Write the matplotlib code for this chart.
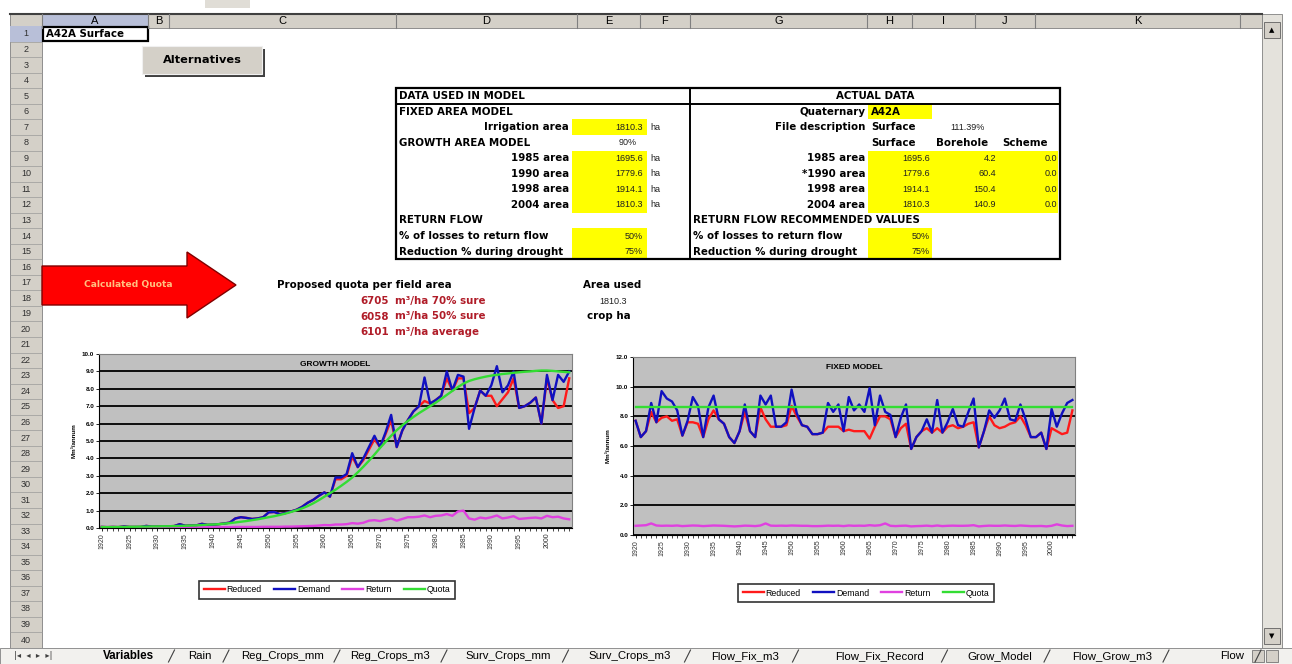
import matplotlib.pyplot as plt
from matplotlib.patches import Rectangle, Polygon

plt.rcParams['font.family'] = ['Liberation Sans', 'DejaVu Sans']

## data
years = list(range(1920, 2005))

grow_reduced = [0.06, 0.05, 0.06, 0.05, 0.09, 0.06, 0.06, 0.06, 0.12, 0.08,
                0.08, 0.09, 0.10, 0.11, 0.22, 0.13, 0.14, 0.15, 0.24, 0.18,
                0.19, 0.22, 0.26, 0.31, 0.55, 0.62, 0.58, 0.52, 0.55, 0.62,
                0.90, 0.92, 0.80, 0.86, 0.95, 1.05, 1.22, 1.45, 1.62, 1.85,
                2.05, 1.80, 2.80, 2.80, 3.00, 4.10, 3.50, 3.90, 4.50, 5.10,
                4.65, 5.40, 6.20, 4.65, 5.60, 6.20, 6.70, 7.00, 7.30, 7.15,
                7.35, 7.60, 8.60, 7.90, 8.60, 8.60, 6.60, 6.90, 7.90, 7.60,
                7.60, 7.00, 7.40, 7.80, 8.60, 6.90, 7.00, 7.20, 7.50, 6.00,
                8.60, 7.35, 6.90, 7.00, 8.60]
grow_demand = [0.06, 0.05, 0.06, 0.05, 0.09, 0.06, 0.06, 0.06, 0.12, 0.08,
               0.08, 0.09, 0.10, 0.11, 0.22, 0.13, 0.14, 0.15, 0.24, 0.18,
               0.19, 0.22, 0.26, 0.31, 0.55, 0.62, 0.58, 0.52, 0.55, 0.62,
               0.90, 0.92, 0.80, 0.86, 0.95, 1.05, 1.22, 1.45, 1.62, 1.85,
               2.05, 1.80, 2.90, 2.90, 3.10, 4.30, 3.50, 4.00, 4.65, 5.30,
               4.65, 5.50, 6.50, 4.65, 5.60, 6.20, 6.70, 7.00, 8.65, 7.15,
               7.35, 7.60, 9.00, 7.90, 8.80, 8.70, 5.70, 6.90, 7.90, 7.60,
               8.20, 9.30, 7.80, 8.20, 9.00, 6.90, 7.00, 7.20, 7.50, 6.00,
               8.80, 7.35, 8.80, 8.40, 9.00]
grow_return = [0.02, 0.02, 0.02, 0.02, 0.03, 0.02, 0.02, 0.02, 0.03, 0.02,
               0.02, 0.02, 0.03, 0.03, 0.04, 0.03, 0.03, 0.03, 0.04, 0.04,
               0.04, 0.04, 0.05, 0.05, 0.06, 0.06, 0.06, 0.06, 0.06, 0.07,
               0.07, 0.07, 0.07, 0.08, 0.08, 0.09, 0.10, 0.11, 0.12, 0.14,
               0.17, 0.16, 0.20, 0.20, 0.22, 0.28, 0.25, 0.30, 0.42, 0.45,
               0.40, 0.48, 0.55, 0.42, 0.52, 0.62, 0.62, 0.65, 0.72, 0.62,
               0.70, 0.72, 0.80, 0.70, 0.95, 1.00, 0.55, 0.48, 0.60, 0.55,
               0.62, 0.72, 0.55, 0.60, 0.68, 0.52, 0.55, 0.58, 0.60, 0.55,
               0.70, 0.62, 0.65, 0.55, 0.50]
grow_quota = [0.05, 0.05, 0.05, 0.06, 0.06, 0.07, 0.07, 0.08, 0.08, 0.09,
              0.09, 0.10, 0.10, 0.11, 0.12, 0.13, 0.14, 0.15, 0.17, 0.19,
              0.20, 0.22, 0.25, 0.28, 0.32, 0.36, 0.40, 0.45, 0.50, 0.56,
              0.62, 0.68, 0.75, 0.83, 0.92, 1.02, 1.13, 1.26, 1.42, 1.60,
              1.80, 2.00, 2.20, 2.42, 2.65, 2.90, 3.20, 3.52, 3.86, 4.22,
              4.60, 4.95, 5.30, 5.62, 5.90, 6.15, 6.38, 6.60, 6.80, 7.00,
              7.20, 7.42, 7.65, 7.88, 8.10, 8.30, 8.45, 8.55, 8.63, 8.70,
              8.76, 8.80, 8.85, 8.88, 8.92, 8.95, 8.98, 9.00, 9.03, 9.05,
              9.05, 9.03, 9.00, 8.97, 8.95]

fix_reduced = [7.7, 6.6, 7.0, 8.3, 7.6, 7.9, 8.0, 7.7, 7.8, 6.7,
               7.6, 7.6, 7.5, 6.6, 7.8, 8.4, 7.8, 7.5, 6.6, 6.2,
               7.0, 8.3, 7.0, 6.6, 8.6, 7.8, 7.3, 7.3, 7.3, 7.4,
               8.7, 8.0, 7.4, 7.3, 6.8, 6.8, 6.9, 7.3, 7.3, 7.3,
               7.0, 7.1, 7.0, 7.0, 7.0, 6.5, 7.3, 8.0, 8.0, 7.8,
               6.6, 7.2, 7.5, 5.8, 6.6, 7.0, 7.2, 6.9, 7.2, 6.9,
               7.3, 7.4, 7.2, 7.3, 7.5, 7.6, 5.9, 7.0, 8.0, 7.4,
               7.2, 7.3, 7.5, 7.6, 8.0, 7.4, 6.6, 6.6, 6.9, 5.8,
               7.2, 7.0, 6.8, 6.9, 8.4]
fix_demand = [7.7, 6.6, 7.0, 8.9, 7.6, 9.7, 9.2, 9.0, 8.4, 6.7,
              7.7, 9.3, 8.7, 6.6, 8.6, 9.4, 7.8, 7.5, 6.6, 6.2,
              7.0, 8.8, 7.0, 6.6, 9.4, 8.8, 9.4, 7.3, 7.3, 7.6,
              9.8, 8.2, 7.4, 7.3, 6.8, 6.8, 6.9, 8.9, 8.3, 8.8,
              7.0, 9.3, 8.4, 8.8, 8.3, 9.9, 7.4, 9.4, 8.3, 8.1,
              6.6, 7.9, 8.8, 5.8, 6.6, 7.0, 7.8, 6.9, 9.1, 6.9,
              7.6, 8.5, 7.4, 7.3, 8.3, 9.2, 5.9, 7.0, 8.4, 7.9,
              8.4, 9.2, 7.8, 7.7, 8.8, 7.8, 6.6, 6.6, 6.9, 5.8,
              8.5, 7.3, 8.2, 8.9, 9.1]
fix_return = [0.62, 0.64, 0.66, 0.78, 0.64, 0.62, 0.63, 0.62, 0.64, 0.60,
              0.62, 0.64, 0.63, 0.60, 0.62, 0.64, 0.63, 0.62, 0.60, 0.58,
              0.60, 0.63, 0.62, 0.60, 0.64, 0.78, 0.63, 0.62, 0.63, 0.62,
              0.64, 0.63, 0.62, 0.62, 0.60, 0.60, 0.61, 0.63, 0.62, 0.63,
              0.60, 0.64, 0.62, 0.63, 0.62, 0.66, 0.63, 0.66, 0.78, 0.62,
              0.60, 0.62, 0.63, 0.58, 0.60, 0.61, 0.63, 0.60, 0.64, 0.60,
              0.62, 0.63, 0.62, 0.62, 0.63, 0.66, 0.58, 0.61, 0.63, 0.62,
              0.62, 0.64, 0.62, 0.61, 0.64, 0.62, 0.60, 0.60, 0.61, 0.58,
              0.62, 0.72, 0.64, 0.60, 0.62]
fix_quota = [8.65] * len(years)

series_names = ['Reduced', 'Demand', 'Return', 'Quota']
series_colors = ['#ff1a1a', '#1010c0', '#e040e0', '#33dd33']

col_names = ['A', 'B', 'C', 'D', 'E', 'F', 'G', 'H', 'I', 'J', 'K']
col_edges = [42, 148, 169, 396, 577, 640, 690, 867, 912, 975, 1035, 1240]
tab_names = ['Variables', 'Rain', 'Reg_Crops_mm', 'Reg_Crops_m3', 'Surv_Crops_mm',
             'Surv_Crops_m3', 'Flow_Fix_m3', 'Flow_Fix_Record', 'Grow_Model',
             'Flow_Grow_m3', 'Flow']
tab_x = [128, 200, 283, 390, 508, 630, 745, 880, 1000, 1112, 1232]

area_labels = ['1985 area', '1990 area', '1998 area', '2004 area']
area_model = ['1695.6', '1779.6', '1914.1', '1810.3']
area_surface = ['1695.6', '1779.6', '1914.1', '1810.3']
area_borehole = ['4.2', '60.4', '150.4', '140.9']
area_scheme = ['0.0', '0.0', '0.0', '0.0']
quota_vals = ['6705', '6058', '6101']
quota_units = ['m³/ha 70% sure', 'm³/ha 50% sure', 'm³/ha average']

GREY = '#d4d0c8'
YEL = '#ffff00'
FS = 7.4
CELL = ['DejaVu Sans']

fig = plt.figure(figsize=(12.92, 6.64), dpi=100)
bg = fig.add_axes([0, 0, 1, 1])
bg.set_xlim(0, 1292)
bg.set_ylim(664, 0)
bg.axis('off')


def row_y(r):
    return 34 + (r - 1) * 15.54


def box(x, y, w, h, fc, ec='none', lw=0.8, z=1):
    bg.add_patch(Rectangle((x, y), w, h, facecolor=fc, edgecolor=ec, lw=lw, zorder=z))


def t(x, y, s, ha='left', bold=True, color='black', size=FS, family=CELL, **kw):
    bg.text(x, y, s, ha=ha, va='center', fontsize=size, color=color, family=family,
            fontweight='bold' if bold else 'normal', zorder=5, **kw)


def n(x, y, s, ha='right'):
    # plain numbers in the cells
    t(x, y, s, ha=ha, bold=False, size=6.5, color='#202020',
      family=['Liberation Sans'])


## sheet chrome
box(205, 0, 45, 8, '#e0ddd6')
box(10, 14, 1252, 14, GREY, ec='#808080', lw=0.6)
bg.plot([10, 1262], [14, 14], color='#404040', lw=1.5, zorder=3)
box(col_edges[0], 14, col_edges[1] - col_edges[0], 14, '#b8bfd8', ec='#808080', lw=0.6, z=2)
for e in col_edges:
    bg.plot([e, e], [14, 28], color='#808080', lw=0.8, zorder=3)
for i, c in enumerate(col_names):
    t((col_edges[i] + col_edges[i + 1]) / 2, 21, c, ha='center', bold=False, size=8,
      family=['Liberation Sans'])

box(10, 28, 32, 620, GREY, ec='#808080', lw=0.6)
for r in range(1, 41):
    y = row_y(r)
    if r == 1:
        box(10, y - 7.77, 32, 15.54, '#b8bfd8', z=2)
    bg.plot([10, 42], [y + 7.77, y + 7.77], color='#9a9a9a', lw=0.5, zorder=3)
    t(26, y, str(r), ha='center', bold=False, size=6.5, color='#303030',
      family=['Liberation Sans'])

# scroll bar
box(1262, 14, 20, 634, '#e4e2dc', ec='#808080', lw=0.6)
box(1264, 22, 16, 16, GREY, ec='#606060', lw=0.6, z=2)
box(1264, 628, 16, 16, GREY, ec='#606060', lw=0.6, z=2)
t(1272, 30, '▲', ha='center', bold=False, size=5)
t(1272, 636, '▼', ha='center', bold=False, size=5)

# sheet tabs
box(0, 648, 1292, 16, '#f2f1ee', ec='#808080', lw=0.6)
t(14, 656, '|◂  ◂  ▸  ▸|', bold=False, size=6, color='#404040')
for name, x in zip(tab_names, tab_x):
    active = name == 'Variables'
    t(x, 656, name, ha='center', bold=active, size=8.4 if active else 8.2,
      family=['Liberation Sans'])
    bg.plot([x + len(name) * 3.5 + 9, x + len(name) * 3.5 + 15], [662, 650],
            color='#404040', lw=0.8, zorder=4)
box(1252, 650, 12, 12, GREY, ec='#606060', lw=0.5, z=2)
box(1266, 650, 12, 12, GREY, ec='#606060', lw=0.5, z=2)

# cell A1 and button
box(43, 27, 105, 14, 'white', ec='black', lw=1.6, z=2)
t(46, 34, 'A42A Surface', size=7.4)
box(145, 49, 120, 28, '#404040', z=2)
box(142, 46, 120, 28, GREY, ec='#f0f0f0', lw=0.8, z=3)
t(202, 60, 'Alternatives', ha='center', size=8.2)

## data table
top, bot = row_y(5) - 7.77, row_y(15) + 7.77
for r in (7, 14, 15):
    box(572, row_y(r) - 7.77, 75, 15.54, YEL)
box(572, row_y(9) - 7.77, 75, 15.54 * 4, YEL)
box(868, row_y(6) - 7.77, 64, 15.54, YEL)
box(868, row_y(9) - 7.77, 190, 15.54 * 4, YEL)
for r in (14, 15):
    box(868, row_y(r) - 7.77, 64, 15.54, YEL)
box(396, top, 664, bot - top, 'none', ec='black', lw=1.6, z=4)
bg.plot([396, 1060], [row_y(5) + 7.77] * 2, color='black', lw=1.4, zorder=4)
bg.plot([690, 690], [top, bot], color='black', lw=1.4, zorder=4)

t(399, row_y(5), 'DATA USED IN MODEL')
t(875, row_y(5), 'ACTUAL DATA', ha='center')
t(399, row_y(6), 'FIXED AREA MODEL')
t(569, row_y(7), 'Irrigation area', ha='right')
n(643, row_y(7), '1810.3')
n(650, row_y(7), 'ha', ha='left')
t(399, row_y(8), 'GROWTH AREA MODEL')
n(628, row_y(8), '90%', ha='center')
for i in range(4):
    y = row_y(9 + i)
    t(569, y, area_labels[i], ha='right')
    n(643, y, area_model[i])
    n(650, y, 'ha', ha='left')
    t(865, y, ('*' if i == 1 else '') + area_labels[i], ha='right')
    n(930, y, area_surface[i])
    n(996, y, area_borehole[i])
    n(1057, y, area_scheme[i])
t(399, row_y(13), 'RETURN FLOW')
for x0, xv in ((399, 643), (693, 930)):
    t(x0, row_y(14), '% of losses to return flow')
    n(xv, row_y(14), '50%')
    t(x0, row_y(15), 'Reduction % during drought')
    n(xv, row_y(15), '75%')
t(865, row_y(6), 'Quaternary', ha='right')
t(871, row_y(6), 'A42A')
t(865, row_y(7), 'File description', ha='right')
t(871, row_y(7), 'Surface')
n(985, row_y(7), '111.39%')
t(871, row_y(8), 'Surface')
t(936, row_y(8), 'Borehole')
t(1002, row_y(8), 'Scheme')
t(693, row_y(13), 'RETURN FLOW RECOMMENDED VALUES')

## arrow and quota text
bg.add_patch(Polygon([(42, 266), (187, 266), (187, 252), (236, 285), (187, 318),
                      (187, 305), (42, 305)], closed=True, facecolor='#ff0000',
                     edgecolor='#800000', lw=1.0, zorder=3))
t(128, 285, 'Calculated Quota', ha='center', color='#ffc080', size=6.6)
t(277, 285, 'Proposed quota per field area')
for i in range(3):
    y = 301 + i * 15.5
    t(389, y, quota_vals[i], ha='right', color='#b01c28')
    t(395, y, quota_units[i], color='#b01c28')
t(612, 285, 'Area used', ha='center')
n(613, 301, '1810.3', ha='center')
t(609, 316, 'crop ha', ha='center')


## charts
def chart(px, title, ymax, ystep, data, leg_center):
    x0, y0, x1, y1 = px
    ax = fig.add_axes([x0 / 1292, 1 - y1 / 664, (x1 - x0) / 1292, (y1 - y0) / 664])
    ax.set_facecolor('#c0c0c0')
    for vals, name, col in zip(data, series_names, series_colors):
        ax.plot(years, vals, color=col, lw=1.7, label=name)
    ax.set_xlim(1919.5, 2004.5)
    ax.set_ylim(0, ymax)
    yt = [i * ystep for i in range(int(round(ymax / ystep)) + 1)]
    ax.set_yticks(yt)
    ax.set_yticklabels(['%.1f' % v for v in yt], fontsize=4.5, fontweight='bold')
    ax.set_xticks(range(1920, 2001, 5))
    ax.set_xticklabels([str(y) for y in range(1920, 2001, 5)], rotation=90,
                       fontsize=5, color='#303030')
    ax.set_xticks(years, minor=True)
    ax.tick_params(axis='both', length=2, width=0.6, pad=1.5)
    ax.tick_params(axis='x', which='minor', length=2, width=0.5)
    ax.grid(axis='y', color='black', lw=1.3)
    ax.set_axisbelow(True)
    for s in ax.spines.values():
        s.set_color('#808080')
        s.set_linewidth(0.8)
    ax.spines['bottom'].set_color('black')
    ax.spines['left'].set_color('black')
    ax.set_ylabel('Mm³/annum', fontsize=4.5, fontweight='bold', labelpad=4)
    ax.text(0.5, 0.94, title, transform=ax.transAxes, ha='center', va='center',
            fontsize=6, fontweight='bold')
    leg = ax.legend(loc='center', ncol=4, fontsize=6.3, frameon=True, fancybox=False,
                    edgecolor='black', handlelength=2.4, columnspacing=1.4,
                    handletextpad=0.2, borderpad=0.55,
                    bbox_to_anchor=(leg_center[0] / 1292, 1 - leg_center[1] / 664),
                    bbox_transform=fig.transFigure)
    leg.get_frame().set_linewidth(1.2)
    return ax


chart((99, 354, 572, 528), 'GROWTH MODEL', 10.0, 1.0,
      [grow_reduced, grow_demand, grow_return, grow_quota], (327, 590))
chart((633, 357, 1075, 535), 'FIXED MODEL', 12.0, 2.0,
      [fix_reduced, fix_demand, fix_return, fix_quota], (866, 593))

plt.savefig('out.png', dpi=100)
plt.close(fig)
